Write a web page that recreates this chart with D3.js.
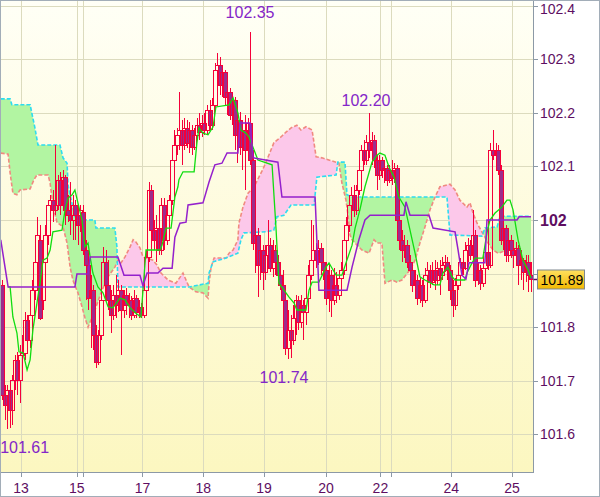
<!DOCTYPE html>
<html><head><meta charset="utf-8">
<script src="https://cdn.jsdelivr.net/npm/d3@7"></script>
<style>html,body{margin:0;padding:0;background:#fff;} svg{display:block;}</style>
</head><body>
<svg id="chart" width="600" height="497"></svg>
<script>
// ---------- DATA (hourly candles, index 0..209) ----------
const opens = [
101.879,101.674,101.655,101.683,101.646,101.701,101.739,101.701,101.748,101.752,
101.813,101.776,101.823,101.869,101.922,101.963,101.851,101.922,101.972,102.028,
102.037,102.019,102.028,102.075,102.028,102.080,102.019,102.009,102.000,102.028,
102.009,101.991,102.015,101.944,101.916,101.854,101.869,101.785,101.735,101.785,
101.851,101.922,101.879,101.851,101.823,101.860,101.841,101.869,101.832,101.860,
101.841,101.851,101.823,101.854,101.828,101.838,101.823,101.869,101.931,102.056,
101.981,101.963,101.985,101.944,102.028,101.963,102.009,102.037,102.112,102.140,
102.159,102.168,102.140,102.172,102.144,102.168,102.136,102.159,102.177,102.164,
102.181,102.168,102.205,102.177,102.215,102.280,102.289,102.252,102.276,102.229,
102.239,102.196,102.224,102.159,102.187,102.136,102.168,102.131,102.181,102.112,
101.957,101.972,101.916,101.944,101.903,101.935,101.953,101.910,101.944,101.922,
101.897,101.879,101.851,101.761,101.795,101.776,101.817,101.851,101.810,101.841,
101.828,101.854,101.897,101.925,101.944,101.925,101.948,101.922,101.907,101.854,
101.897,101.851,101.879,101.860,101.892,101.907,101.963,101.991,102.028,102.047,
102.019,102.056,102.093,102.131,102.112,102.146,102.131,102.149,102.112,102.084,
102.112,102.093,102.097,102.075,102.093,102.078,102.097,102.000,101.963,101.944,
101.953,101.922,101.907,101.879,101.888,101.854,101.879,101.851,101.897,101.907,
101.884,101.907,101.888,101.910,101.897,101.916,101.922,101.907,101.869,101.841,
101.879,101.897,101.922,101.910,101.944,101.953,101.935,101.972,101.888,101.907,
101.882,101.910,101.940,101.916,102.131,102.121,102.131,102.093,101.963,101.985,
101.935,101.963,101.944,101.935,101.948,101.916,101.925,101.903,101.922,101.897];
const highs = [
101.888,101.692,101.692,101.701,101.711,101.748,101.754,101.767,101.785,101.828,
101.823,101.851,101.888,101.935,102.006,101.991,101.935,101.991,102.037,102.047,
102.056,102.140,102.084,102.090,102.093,102.084,102.047,102.071,102.047,102.037,
102.028,102.028,102.028,101.963,101.935,101.897,101.879,101.804,101.795,101.869,
101.950,101.944,101.925,101.869,101.879,101.897,101.888,101.879,101.869,101.873,
101.864,101.858,101.869,101.860,101.851,101.845,101.879,101.944,102.071,102.065,
102.000,102.009,101.996,102.041,102.041,102.028,102.047,102.131,102.168,102.172,
102.239,102.187,102.190,102.187,102.183,102.177,102.172,102.190,102.200,102.196,
102.200,102.215,102.224,102.228,102.293,102.312,102.304,102.284,102.280,102.252,
102.246,102.239,102.229,102.209,102.201,102.181,102.196,102.190,102.350,102.131,
101.991,101.985,101.963,101.953,101.953,102.000,101.966,101.963,101.953,101.935,
101.916,101.907,101.879,101.832,101.823,101.841,101.860,101.858,101.860,101.851,
101.869,101.916,102.000,101.991,101.957,101.963,101.957,101.938,101.922,101.916,
101.907,101.910,101.903,101.907,101.922,101.972,102.006,102.037,102.062,102.065,
102.065,102.112,102.140,102.149,102.159,102.200,102.164,102.159,102.121,102.121,
102.118,102.112,102.103,102.103,102.112,102.106,102.103,102.009,101.981,101.972,
101.963,101.935,101.920,101.907,101.897,101.892,101.888,101.910,101.922,101.916,
101.922,101.925,101.922,101.925,101.931,101.935,101.931,101.916,101.888,101.892,
101.916,101.929,101.935,101.959,101.966,101.963,102.019,101.981,101.922,101.916,
101.922,101.953,101.950,102.144,102.168,102.144,102.140,102.103,102.000,101.991,
101.978,101.972,101.963,101.959,101.953,101.944,101.929,101.935,101.935,101.922];
const lows = [
101.664,101.627,101.610,101.612,101.618,101.683,101.674,101.659,101.724,101.739,
101.767,101.761,101.813,101.851,101.907,101.813,101.832,101.907,101.953,101.991,
101.996,102.009,102.019,102.009,102.019,101.991,101.996,101.972,101.963,101.963,
101.953,101.978,101.935,101.851,101.832,101.761,101.757,101.724,101.729,101.776,
101.841,101.860,101.832,101.789,101.813,101.817,101.828,101.748,101.817,101.823,
101.817,101.813,101.817,101.817,101.817,101.817,101.817,101.851,101.922,101.944,
101.944,101.922,101.935,101.935,101.944,101.953,101.987,102.028,102.093,102.121,
102.131,102.103,102.131,102.134,102.125,102.121,102.131,102.149,102.149,102.155,
102.159,102.159,102.168,102.168,102.205,102.224,102.233,102.229,102.215,102.196,
102.187,102.177,102.131,102.106,102.121,102.093,102.056,102.121,102.103,101.944,
101.901,101.856,101.888,101.869,101.888,101.916,101.903,101.894,101.897,101.884,
101.869,101.832,101.748,101.740,101.743,101.767,101.785,101.795,101.799,101.776,
101.804,101.845,101.888,101.907,101.910,101.916,101.897,101.888,101.841,101.828,
101.819,101.841,101.845,101.851,101.869,101.897,101.948,101.978,102.009,102.006,
102.009,102.047,102.075,102.103,102.103,102.116,102.103,102.097,102.056,102.075,
102.078,102.069,102.063,102.069,102.065,102.069,101.981,101.944,101.922,101.929,
101.910,101.879,101.866,101.860,101.841,101.845,101.838,101.845,101.879,101.873,
101.879,101.869,101.879,101.860,101.888,101.903,101.888,101.851,101.819,101.832,
101.869,101.888,101.897,101.907,101.922,101.925,101.922,101.875,101.879,101.869,
101.875,101.901,101.907,101.910,102.112,102.103,102.084,101.953,101.944,101.922,
101.922,101.929,101.910,101.922,101.879,101.888,101.869,101.884,101.866,101.866];
const closes = [
101.674,101.655,101.683,101.646,101.701,101.739,101.701,101.748,101.752,101.813,
101.776,101.823,101.869,101.922,101.972,101.817,101.922,101.972,102.028,102.037,
102.019,102.028,102.075,102.028,102.080,102.019,102.009,102.000,102.028,102.009,
101.991,102.019,101.944,101.916,101.854,101.869,101.785,101.735,101.785,101.851,
101.922,101.879,101.851,101.823,101.860,101.841,101.869,101.832,101.860,101.841,
101.851,101.823,101.854,101.828,101.838,101.823,101.869,101.931,102.056,101.981,
101.963,101.985,101.944,102.028,101.963,102.009,102.037,102.112,102.140,102.159,
102.168,102.140,102.172,102.144,102.168,102.136,102.159,102.177,102.164,102.181,
102.168,102.205,102.177,102.215,102.280,102.289,102.252,102.276,102.229,102.239,
102.196,102.224,102.159,102.187,102.136,102.168,102.131,102.181,102.112,101.957,
101.972,101.916,101.944,101.903,101.935,101.953,101.910,101.944,101.922,101.897,
101.879,101.851,101.761,101.795,101.776,101.817,101.851,101.810,101.841,101.828,
101.854,101.897,101.925,101.944,101.925,101.948,101.922,101.907,101.854,101.897,
101.851,101.879,101.860,101.892,101.907,101.963,101.991,102.028,102.047,102.019,
102.056,102.093,102.131,102.112,102.146,102.131,102.149,102.112,102.084,102.112,
102.093,102.097,102.075,102.093,102.078,102.097,102.000,101.963,101.944,101.953,
101.922,101.907,101.879,101.888,101.854,101.879,101.851,101.897,101.907,101.884,
101.907,101.888,101.910,101.897,101.916,101.922,101.907,101.869,101.841,101.879,
101.897,101.922,101.910,101.944,101.953,101.935,101.972,101.888,101.907,101.882,
101.910,101.940,101.916,102.131,102.121,102.131,102.093,101.963,101.985,101.935,
101.963,101.944,101.935,101.948,101.916,101.925,101.903,101.922,101.897,101.890];

// Ichimoku lines: [candle index, price]
const tenkan = [[2.9,101.875],[3.7,101.875],[4.8,101.819],[6.4,101.789],[7.2,101.754],[8.8,101.752],[10.4,101.720],[11.6,101.739],[12.7,101.795],[14.3,101.845],[15.5,101.882],[16.7,101.925],[18.3,101.929],[19.5,101.944],[20.6,101.978],[24.2,101.981],[25.4,102.019],[26.6,102.041],[28.2,102.047],[29.3,102.056],[30.5,102.032],[32.1,102.000],[33.3,101.950],[34.5,101.957],[35.3,101.931],[36.4,101.901],[38.4,101.875],[40.4,101.864],[42.4,101.838],[44.3,101.836],[47.1,101.854],[49.1,101.851],[51.1,101.836],[53.4,101.826],[55.4,101.819],[56.2,101.869],[57.4,101.944],[62.9,101.944],[63.7,101.953],[65.3,101.985],[67.3,101.985],[68.8,102.043],[70.0,102.062],[70.4,102.075],[72.0,102.090],[76.4,102.090],[77.5,102.144],[78.3,102.172],[79.9,102.162],[81.9,102.159],[83.9,102.174],[85.0,102.211],[90.2,102.215],[91.8,102.228],[93.7,102.200],[94.9,102.168],[96.9,102.162],[98.1,102.155],[101.6,102.112],[107.2,102.103],[108.8,101.981],[109.9,101.882],[111.9,101.869],[113.9,101.856],[115.9,101.845],[117.0,101.832],[120.6,101.832],[121.8,101.869],[123.0,101.884],[125.7,101.884],[128.5,101.912],[129.7,101.920],[130.9,101.910],[132.5,101.897],[134.8,101.897],[136.4,101.920],[138.8,101.953],[140.0,101.985],[141.9,102.019],[143.9,102.062],[146.7,102.108],[148.7,102.121],[149.8,102.125],[151.8,102.121],[153.4,102.099],[155.4,102.080],[157.3,102.043],[159.7,102.024],[161.7,101.981],[163.7,101.938],[165.6,101.894],[167.6,101.888],[171.2,101.879],[173.5,101.879],[174.7,101.901],[176.7,101.912],[178.3,101.894],[179.5,101.888],[183.4,101.888],[184.2,101.901],[186.2,101.920],[187.4,101.929],[190.5,101.929],[192.1,101.976],[193.3,102.000],[195.3,102.013],[198.0,102.024],[200.0,102.037],[201.2,102.037],[202.4,102.019],[204.4,101.963],[206.3,101.925],[208.3,101.907],[209.5,101.892]];
const kijun = [[0,101.963],[2.9,101.875],[29.3,101.875],[30.1,101.899],[34.5,101.899],[35.3,101.931],[46.3,101.931],[48.7,101.897],[55.0,101.897],[56.2,101.877],[57.8,101.901],[62.1,101.901],[64.1,101.910],[67.7,101.910],[68.8,101.968],[70.8,101.994],[73.2,101.996],[74.0,102.028],[79.9,102.032],[82.3,102.071],[84.6,102.103],[87.4,102.106],[89.4,102.125],[93.7,102.125],[94.5,102.181],[98.5,102.181],[99.7,102.116],[109.5,102.108],[111.1,102.043],[124.2,102.043],[125.7,101.869],[136.8,101.869],[138.8,101.912],[141.5,101.963],[143.9,102.000],[145.9,102.009],[159.3,102.009],[160.1,102.034],[161.7,102.009],[169.2,102.009],[170.8,101.985],[179.5,101.978],[180.7,101.944],[182.2,101.897],[183.8,101.890],[185.0,101.920],[191.3,101.920],[192.1,102.000],[204.0,102.000],[204.8,102.006],[209.5,102.006]];
const spanA = [[0,102.226],[3.7,102.226],[4.4,102.215],[11.6,102.215],[13.5,102.172],[14.7,102.140],[23.4,102.140],[24.6,102.116],[26.2,102.106],[26.6,102.065],[27.4,102.047],[29.3,102.006],[31.3,102.000],[37.2,102.000],[37.6,101.985],[45.1,101.985],[45.9,101.950],[46.3,101.875],[70.0,101.875],[74.4,101.875],[81.9,101.882],[82.3,101.901],[83.9,101.922],[89.0,101.929],[93.7,101.938],[94.9,101.963],[96.1,101.976],[104.8,101.978],[107.9,101.981],[109.1,102.006],[111.9,102.009],[114.7,102.028],[123.8,102.028],[124.9,102.080],[132.5,102.084],[133.2,102.108],[136.0,102.108],[136.8,102.047],[138.8,102.043],[171.6,102.043],[176.3,102.043],[177.5,101.972],[190.1,101.970],[191.3,101.985],[196.1,101.987],[197.3,102.007],[209.5,102.007]];
const spanB = [[0,102.125],[2.9,102.123],[3.7,102.088],[4.8,102.050],[6.4,102.047],[7.6,102.056],[11.6,102.058],[13.1,102.075],[14.3,102.084],[18.7,102.084],[19.5,102.069],[20.6,102.028],[22.2,101.996],[24.6,101.987],[26.2,101.957],[27.4,101.912],[28.5,101.888],[30.5,101.864],[32.1,101.838],[33.3,101.817],[34.5,101.800],[37.2,101.832],[39.6,101.864],[42.4,101.894],[45.1,101.912],[46.3,101.925],[47.5,101.920],[49.1,101.931],[51.1,101.950],[52.3,101.963],[53.4,101.959],[55.0,101.948],[56.2,101.931],[60.1,101.925],[61.7,101.916],[63.3,101.901],[66.1,101.888],[69.2,101.882],[72.0,101.901],[73.2,101.888],[74.4,101.875],[77.1,101.866],[79.9,101.864],[81.9,101.854],[82.3,101.882],[83.1,101.912],[84.3,101.929],[89.0,101.929],[90.2,101.938],[91.8,101.944],[93.7,101.963],[94.1,101.994],[95.7,102.024],[97.7,102.050],[100.1,102.062],[102.0,102.080],[104.0,102.099],[107.9,102.144],[110.7,102.155],[112.7,102.164],[114.7,102.172],[117.0,102.177],[118.6,102.168],[120.6,102.174],[123.0,102.168],[124.6,102.118],[126.9,102.116],[132.5,102.108],[133.6,102.106],[134.8,102.069],[136.4,102.037],[137.2,102.009],[138.0,101.972],[138.8,101.963],[140.8,101.953],[142.7,101.944],[145.5,101.938],[147.5,101.963],[148.7,101.957],[150.6,101.957],[151.8,101.882],[154.6,101.888],[156.5,101.884],[158.5,101.888],[161.7,101.907],[163.7,101.925],[165.6,101.957],[167.6,101.987],[169.6,102.019],[171.6,102.043],[173.5,102.062],[177.5,102.067],[179.5,102.056],[181.4,102.037],[184.2,102.024],[185.4,102.032],[186.6,102.013],[188.2,101.994],[190.1,101.978],[191.3,101.968],[192.5,101.957],[194.5,101.944],[196.5,101.938],[200.0,101.944],[201.2,101.950],[203.2,101.938],[205.1,101.931],[207.1,101.920],[209.5,101.907]];

// Axis data
const dayTicks  = [8, 30, 32.5, 56, 80, 104, 128.5, 150, 154, 178, 202];
const dayLabels = ["13","15","","17","18","19","20","22","","24","25"];
const priceTicks = [101.6,101.7,101.8,101.9,102.0,102.1,102.2,102.3,102.4];
const lastPrice = 101.89;
// Extreme annotations: candle index and price
const extremeIdx = [98, 145, 113, 3];
const extremeVal = [102.35, 102.20, 101.74, 101.61];

// ---------- LAYOUT ----------
const W = 600, H = 497;
const P = {left:1, right:533, top:1, bottom:472};
const annOffsets = [[0,-14],[-3,-7],[-4,24],[15,24]];
const FONT = "'Liberation Sans', Arial, sans-serif";
const C = {
  red:"#f5003a", bearFill:"#9c2c8c", grid:"#dcdbbe", axis:"#8c99a6",
  tenkan:"#10dd10", kijun:"#9420cc", spanA:"#2ddcf0", spanB:"#f08a80",
  cloudUp:"#b2f5a2", cloudDn:"#fcc8ea", label:"#5e0e62", ann:"#8426c8"
};

const x = d3.scaleLinear().domain([0,210]).range([0.75, 0.75 + 210*2.531]);
const y = d3.scaleLinear().domain([101.6, 102.4]).range([434.3, 5.7]);

const svg = d3.select("#chart");
const defs = svg.append("defs");
const bg = defs.append("linearGradient").attr("id","bgGrad").attr("x1",0).attr("y1",0).attr("x2",0).attr("y2",1);
bg.append("stop").attr("offset","0%").attr("stop-color","#fffff6");
bg.append("stop").attr("offset","100%").attr("stop-color","#fcf7c0");
const boxG = defs.append("linearGradient").attr("id","boxGrad").attr("x1",0).attr("y1",0).attr("x2",0).attr("y2",1);
boxG.append("stop").attr("offset","0%").attr("stop-color","#ffe060");
boxG.append("stop").attr("offset","100%").attr("stop-color","#f2b800");
defs.append("clipPath").attr("id","plotClip").append("rect")
  .attr("x",P.left).attr("y",P.top).attr("width",P.right-P.left).attr("height",P.bottom-P.top);

svg.append("rect").attr("width",W).attr("height",H).attr("fill","#fff");
svg.append("rect").attr("x",P.left).attr("y",P.top).attr("width",P.right-P.left).attr("height",P.bottom-P.top).attr("fill","url(#bgGrad)");

const plot = svg.append("g").attr("clip-path","url(#plotClip)");

// grid
plot.append("g").selectAll("line.h").data(priceTicks).join("line")
  .attr("x1",P.left).attr("x2",P.right)
  .attr("y1",d=>Math.round(y(d))+0.5).attr("y2",d=>Math.round(y(d))+0.5)
  .attr("stroke",C.grid).attr("stroke-width",1);
plot.append("g").selectAll("line.v").data(dayTicks).join("line")
  .attr("y1",P.top).attr("y2",P.bottom)
  .attr("x1",d=>Math.round(x(d))+0.5).attr("x2",d=>Math.round(x(d))+0.5)
  .attr("stroke",C.grid).attr("stroke-width",1);

// cloud fills
const areaBelow = d3.area().x(d=>x(d[0])).y0(P.bottom+5).y1(d=>y(d[1]));
const areaAbove = d3.area().x(d=>x(d[0])).y0(P.top-5).y1(d=>y(d[1]));
defs.append("clipPath").attr("id","aboveB").append("path").attr("d", areaAbove(spanB));
defs.append("clipPath").attr("id","aboveA").append("path").attr("d", areaAbove(spanA));
plot.append("g").attr("clip-path","url(#aboveB)").append("path").attr("d", areaBelow(spanA)).attr("fill",C.cloudUp);
plot.append("g").attr("clip-path","url(#aboveA)").append("path").attr("d", areaBelow(spanB)).attr("fill",C.cloudDn);

const line = d3.line().x(d=>x(d[0])).y(d=>y(d[1]));
plot.append("path").attr("d",line(spanB)).attr("fill","none").attr("stroke",C.spanB).attr("stroke-width",1.6).attr("stroke-dasharray","4,2");
plot.append("path").attr("d",line(spanA)).attr("fill","none").attr("stroke",C.spanA).attr("stroke-width",1.6).attr("stroke-dasharray","4,2");

// candles
const cg = plot.append("g");
for (let i = 0; i < closes.length; i++) {
  const px = Math.round(x(i + 0.5));
  const yo = y(opens[i]), yc = y(closes[i]);
  const top = Math.round(Math.min(yo, yc)), bot = Math.round(Math.max(yo, yc));
  const yh = Math.round(y(highs[i])), yl = Math.round(y(lows[i]));
  const bull = closes[i] >= opens[i];
  if (yh < top) cg.append("line").attr("x1",px+0.5).attr("x2",px+0.5).attr("y1",yh).attr("y2",top).attr("stroke",C.red);
  if (yl > bot) cg.append("line").attr("x1",px+0.5).attr("x2",px+0.5).attr("y1",bot).attr("y2",yl).attr("stroke",C.red);
  cg.append("rect").attr("x",px-1.5).attr("y",top+0.5).attr("width",4).attr("height",Math.max(1, bot-top))
    .attr("fill", bull ? "none" : C.bearFill).attr("stroke",C.red).attr("stroke-width",1);
}

// tenkan / kijun
plot.append("path").attr("d",line(tenkan)).attr("fill","none").attr("stroke",C.tenkan).attr("stroke-width",1.3);
plot.append("path").attr("d",line(kijun)).attr("fill","none").attr("stroke",C.kijun).attr("stroke-width",1.5);

// extreme annotations
svg.append("g").selectAll("text").data(extremeVal).join("text")
  .attr("x",(d,i)=>x(extremeIdx[i]+0.5)+annOffsets[i][0])
  .attr("y",(d,i)=>y(d)+annOffsets[i][1])
  .attr("text-anchor","middle").attr("font-family",FONT).attr("font-size",16)
  .attr("fill",C.ann).text(d=>d3.format(".2f")(d));

// axes lines
svg.append("line").attr("x1",533.5).attr("x2",533.5).attr("y1",0).attr("y2",473).attr("stroke",C.axis);
svg.append("line").attr("x1",0).attr("x2",533.5).attr("y1",472.5).attr("y2",472.5).attr("stroke",C.axis);

// right ticks + labels (labels hidden where the last-price box covers them)
const isInt = d => Math.abs(d-Math.round(d)) < 1e-9;
const rt = svg.append("g");
rt.selectAll("line").data(priceTicks).join("line")
  .attr("x1",533.5).attr("x2",538).attr("y1",d=>Math.round(y(d))+0.5).attr("y2",d=>Math.round(y(d))+0.5)
  .attr("stroke",C.axis);
rt.selectAll("text").data(priceTicks.filter(d => Math.abs(y(d)-y(lastPrice)) > 12)).join("text")
  .attr("x",540).attr("y",d=>Math.max(y(d),8.5)).attr("dy","0.36em")
  .attr("font-family",FONT)
  .attr("font-size",d=>isInt(d) ? 16 : 14)
  .attr("font-weight",d=>isInt(d) ? "bold" : "normal")
  .attr("fill",C.label)
  .text(d=>isInt(d) ? d3.format("d")(d) : d3.format(".1f")(d));

// bottom ticks + labels
const bt = svg.append("g");
bt.selectAll("line").data(dayTicks).join("line")
  .attr("x1",d=>Math.round(x(d))+0.5).attr("x2",d=>Math.round(x(d))+0.5).attr("y1",472.5).attr("y2",477)
  .attr("stroke",C.axis);
bt.selectAll("text").data(dayTicks).join("text")
  .attr("x",d=>x(d)).attr("y",492.5).attr("text-anchor","middle")
  .attr("font-family",FONT).attr("font-size",14).attr("fill",C.label)
  .text((d,i)=>dayLabels[i]);

// last price marker
const ly = Math.round(y(lastPrice))+0.5;
svg.append("line").attr("x1",533.5).attr("x2",538).attr("y1",ly).attr("y2",ly).attr("stroke",C.label).attr("stroke-width",1.5);
svg.append("rect").attr("x",537.5).attr("y",ly-9.5).attr("width",47).attr("height",19)
  .attr("fill","url(#boxGrad)").attr("stroke","#7e8790");
svg.append("text").attr("x",540.5).attr("y",ly).attr("dy","0.36em").attr("font-family",FONT).attr("font-size",14)
  .attr("fill","#000").text(d3.format(".2f")(lastPrice));

// outer border
svg.append("rect").attr("x",0.5).attr("y",0.5).attr("width",W-1).attr("height",H-1).attr("fill","none").attr("stroke","#a2adb8");
</script>
</body></html>
